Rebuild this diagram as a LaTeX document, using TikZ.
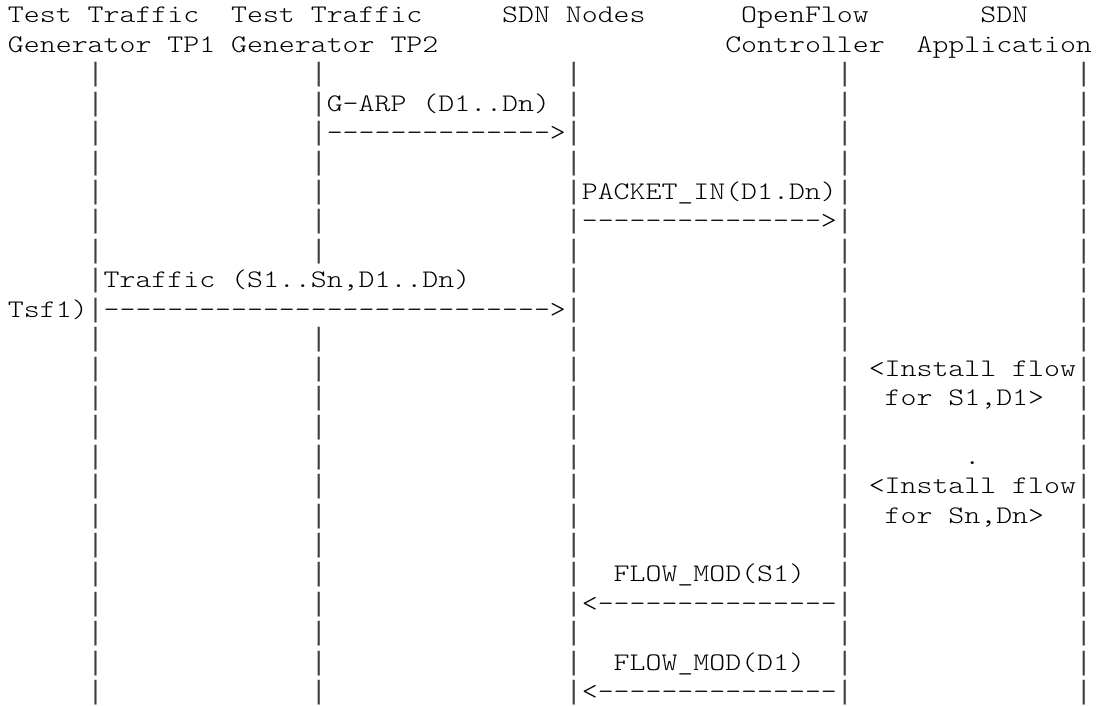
\documentclass[tikz,border=0pt]{standalone}
\usepackage{fontspec}
% Courier-like typewriter face: Latin Modern Mono Light, widened to a 0.6em cell
\newfontfamily\ttglyph[FakeStretch=1.2]{lmmonolt10-regular.otf}
% tall vertical bar for the lifelines
\newfontfamily\barglyph{Liberation Mono}

% character grid (1 unit = 0.5pt)
\def\colw{15.94}
\def\rowh{29.42}
\def\xo{8}
\def\yo{23}

\tikzset{
  glyph/.style={font=\ttglyph\fontsize{12.65pt}{14pt}\selectfont,
    anchor=base west, inner sep=0pt, outer sep=0pt, text=black},
  lifebar/.style={font=\barglyph\fontsize{13.28pt}{14pt}\selectfont,
    anchor=base west, inner sep=0pt, outer sep=0pt, text=black!75}
}

% \txt{name}{column}{row}{text}
\newcommand\txt[4]{\node[glyph] (#1) at ({\xo+(#2)*\colw},{\yo+(#3)*\rowh}) {#4};}
% \dashrun{name}{row}{first column}{last column}
\newcommand\dashrun[4]{%
  \foreach \c in {#3,...,#4} {\node[glyph] (#1-\c) at ({\xo+\c*\colw},{\yo+(#2)*\rowh}) {-};}}

\begin{document}
\begin{tikzpicture}[x=0.5pt,y=-0.5pt]
\fill[white] (0,0) rectangle (1104,706);
\useasboundingbox (0,0) rectangle (1104,706);

% header
\txt{h1a}{0}{0}{Test Traffic}
\txt{h2a}{14}{0}{Test Traffic}
\txt{h3a}{31}{0}{SDN Nodes}
\txt{h4a}{46}{0}{OpenFlow}
\txt{h5a}{61}{0}{SDN}
\txt{h1b}{0}{1}{Generator TP1}
\txt{h2b}{14}{1}{Generator TP2}
\txt{h4b}{45}{1}{Controller}
\txt{h5b}{57}{1}{Application}

% lifelines, one bar per text row
\foreach \r in {2,...,23} {
  \foreach \c in {5,19,35,52,67} {
    \pgfmathtruncatemacro\hidebar{and(\c==19,and(\r>8,\r<11))}
    \ifnum\hidebar=0
      \node[lifebar] (bar-\r-\c) at ({\xo+\c*\colw},{\yo+\r*\rowh}) {|};
    \fi
  }
}

% G-ARP from TP2 to the SDN nodes
\txt{garp}{20}{3}{G-ARP (D1..Dn)}
\dashrun{garpline}{4}{20}{33}
\txt{garptip}{34}{4}{>}

% PACKET_IN to the controller
\txt{pin}{36}{6}{PACKET\_IN(D1.Dn)}
\dashrun{pinline}{7}{36}{50}
\txt{pintip}{51}{7}{>}

% test traffic from TP1
\txt{traffic}{6}{9}{Traffic (S1..Sn,D1..Dn)}
\txt{tsf}{0}{10}{Tsf1)}
\dashrun{trafficline}{10}{6}{33}
\txt{traffictip}{34}{10}{>}

% flow installation by the application
\txt{inst1}{54}{12}{<Install flow}
\txt{for1}{55}{13}{for S1,D1>}
\txt{dots}{60}{15}{.}
\txt{inst2}{54}{16}{<Install flow}
\txt{for2}{55}{17}{for Sn,Dn>}

% FLOW_MOD messages back to the SDN nodes
\txt{fm1}{38}{19}{FLOW\_MOD(S1)}
\txt{fm1tip}{36}{20}{<}
\dashrun{fm1line}{20}{37}{51}
\txt{fm2}{38}{22}{FLOW\_MOD(D1)}
\txt{fm2tip}{36}{23}{<}
\dashrun{fm2line}{23}{37}{51}
\end{tikzpicture}
\end{document}
